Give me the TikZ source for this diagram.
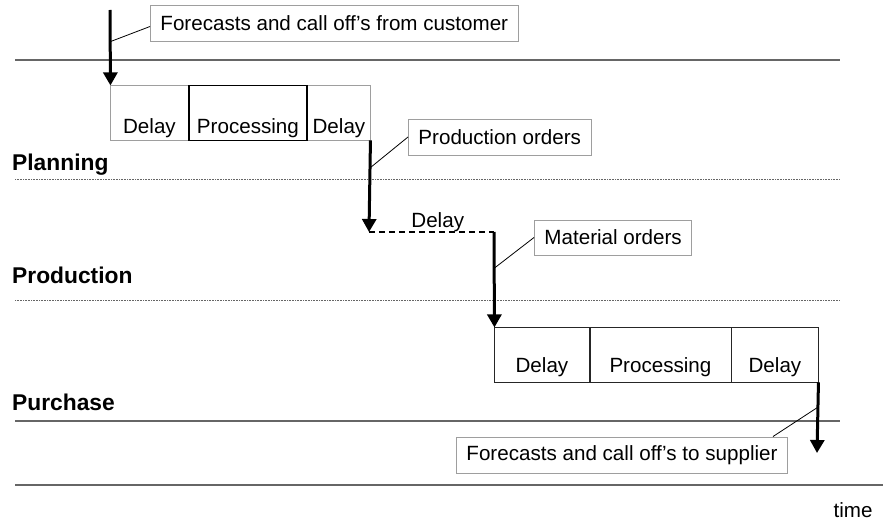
\documentclass[tikz,border=0pt]{standalone}
\usepackage{fontspec}
\setmainfont{Liberation Sans}
\usepackage{tikz}
\usetikzlibrary{positioning}
\usetikzlibrary{matrix,calc,arrows.meta}
\usepackage{xcolor}
\definecolor{boxgray}{gray}{0.62}
\definecolor{linegray}{gray}{0.4}
\tikzset{flow/.style={line width=3pt,-{Triangle[width=14pt,length=13pt]}}}
\tikzset{callout/.style={draw=boxgray,fill=white,line width=0.9pt,anchor=west,inner xsep=10pt,inner ysep=0pt,minimum height=36pt}}
\tikzset{leader/.style={line width=0.8pt}}
\tikzset{lane/.style={anchor=base west,inner sep=0pt,font=\fontsize{22.8}{26}\selectfont\bfseries}}
\tikzset{hline/.style={draw=linegray,line width=1.2pt}}
\tikzset{dotline/.style={draw=linegray,line width=0.8pt,dash pattern=on 0.8pt off 0.8pt}}

\begin{document}
\begin{tikzpicture}[x=1pt,y=-1pt,font=\fontsize{20.6}{24}\selectfont]
    \useasboundingbox (0,0) rectangle (883,524);

	% lanes
	\draw[hline] (15,60) -- (840,60);
	\draw[dotline] (15,179) -- (840,179);
	\draw[dotline] (15,300) -- (840,300);
	\draw[hline] (15,421) -- (840,421);
	\draw[hline] (15,485) -- (883,485);

	\node[lane] (lplan) at (12,170) {Planning};
	\node[lane] (lprod) at (12,283) {Production};
	\node[lane] (lpurch) at (12,410) {Purchase};
	\node[anchor=base,inner sep=0pt] (ltime) at (853,517) {time};

	\matrix (plan) [matrix of nodes,anchor=north west,inner sep=0pt,outer sep=0pt,column sep=-\pgflinewidth, nodes={draw=boxgray,
      line width=0.9pt,
      minimum height=55pt,
      text height=48pt,
      text depth=7pt,
      inner sep=0pt,
      anchor=center
    }] at (110,85)
	{
		|[minimum width=78pt]| Delay & |[minimum width=118pt]| Processing & |[minimum width=63pt]| Delay\\
	};
    \draw[line width=1.4pt] (plan-1-2.north west) rectangle (plan-1-2.south east);

	\matrix (purch) [matrix of nodes,anchor=north west,inner sep=0pt,outer sep=0pt,column sep=-\pgflinewidth, nodes={draw=black!85,
      line width=0.9pt,
      minimum height=55pt,
      text height=45pt,
      text depth=10pt,
      inner sep=0pt,
      anchor=center
    }] at (494,327)
	{
		|[minimum width=95pt]| Delay & |[minimum width=141pt]| Processing & |[minimum width=87pt]| Delay\\
	};

	% order flow
	\coordinate (in) at (110,10);
	\coordinate (d1) at (369,232);
	\coordinate (d2) at (494,232);
	\coordinate (out) at (817,453);

	\draw[flow] (in) -- (plan-1-1.north west);
	\draw[flow] (plan-1-3.south east) -- (d1);
	\draw[line width=2pt, dash pattern=on 6pt off 4pt] (d1) -- (d2);
	\node[anchor=south,inner sep=0pt] (ldelay) at ($(d1)!0.55!(d2)$) {Delay};
	\draw[flow] (d2) -- (purch-1-1.north west);
	\draw[flow] (purch-1-3.south east) -- (out);

	% callouts
	\node[callout] (cust) at (150,23.5) {Forecasts and call off's from customer};
	\node[callout] (prodord) at (408,137) {Production orders};
	\node[callout,minimum height=35pt] (matord) at (534,237.5) {Material orders};
	\node[callout] (supp) at (456,455) {Forecasts and call off's to supplier};

	\draw[leader] ($(in)!0.42!(plan-1-1.north west)$) -- ([yshift=-3pt]cust.west);
	\draw[leader] ($(plan-1-3.south east)!0.3!(d1)$) -- (prodord.west);
	\draw[leader] ($(d2)!0.38!(purch-1-1.north west)$) -- (matord.west);
	\draw[leader] ($(purch-1-3.south east)!0.35!(out)$) -- ([xshift=-15pt]supp.north east);
\end{tikzpicture}
\end{document}
